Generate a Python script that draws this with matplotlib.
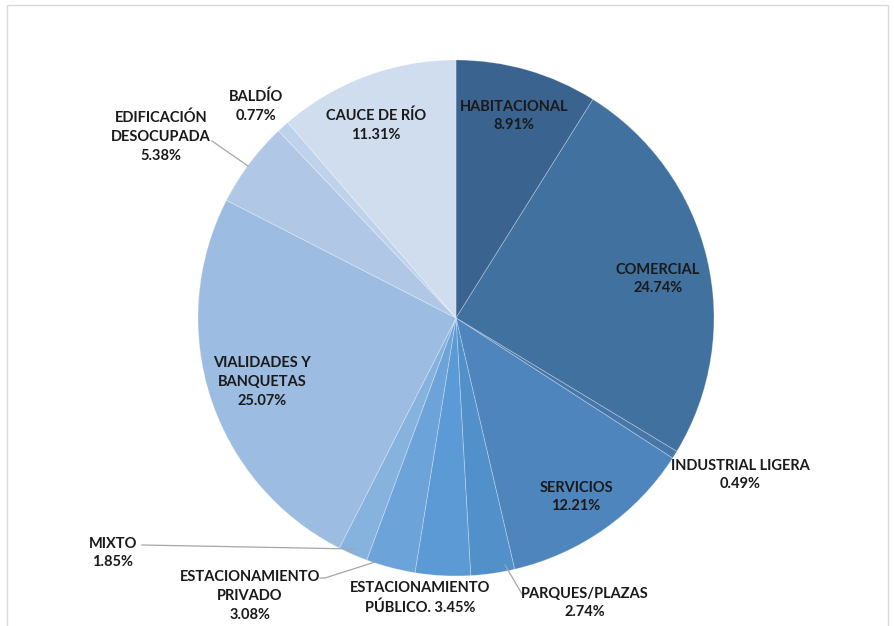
import matplotlib.pyplot as plt
from matplotlib.patches import Rectangle

categories = ['HABITACIONAL', 'COMERCIAL', 'INDUSTRIAL LIGERA', 'SERVICIOS',
              'PARQUES/PLAZAS', 'ESTACIONAMIENTO\nPÚBLICO.', 'ESTACIONAMIENTO\nPRIVADO',
              'MIXTO', 'VIALIDADES Y\nBANQUETAS', 'EDIFICACIÓN\nDESOCUPADA',
              'BALDÍO', 'CAUCE DE RÍO']
values = [8.91, 24.74, 0.49, 12.21, 2.74, 3.45, 3.08, 1.85, 25.07, 5.38, 0.77, 11.31]
colors = ['#3A6390', '#41719F', '#4677A8', '#4F85BD', '#5290CA', '#5B9AD4',
          '#6CA4DA', '#86B2DE', '#9CBCE1', '#B0C8E6', '#BFD2EB', '#D0DDEF']

W, H = 894, 626
fig = plt.figure(figsize=(8.94, 6.26), dpi=100)
ax = fig.add_axes([0, 0, 1, 1])

def py(y):  # pixel row -> data y
    return H - y

ax.pie(values, colors=colors, startangle=90, counterclock=False,
       center=(456, py(318)), radius=258, frame=True,
       wedgeprops=dict(edgecolor=(1, 1, 1, 0.3), linewidth=0.6))
ax.set_xlim(0, W)
ax.set_ylim(0, H)
ax.set_aspect('equal')
ax.axis('off')

# chart frame
ax.add_patch(Rectangle((7, py(640)), 881, 635, fill=False, edgecolor='#D9D9D9', lw=1))

font = dict(family=['Lato', 'DejaVu Sans'], fontweight='bold', fontsize=10.5,
            color='#1A1A1A', ha='center', va='center', linespacing=1.45)

labels = [
    ('HABITACIONAL\n8.91%', 514, 116),
    ('COMERCIAL\n24.74%', 658, 279),
    ('INDUSTRIAL LIGERA\n0.49%', 740, 475),
    ('SERVICIOS\n12.21%', 576, 497),
    ('PARQUES/PLAZAS\n2.74%', 585, 603),
    ('ESTACIONAMIENTO\nPÚBLICO. 3.45%', 420, 598),
    ('ESTACIONAMIENTO\nPRIVADO\n3.08%', 250, 596),
    ('MIXTO\n1.85%', 113, 553),
    ('VIALIDADES Y\nBANQUETAS\n25.07%', 262, 382),
    ('EDIFICACIÓN\nDESOCUPADA\n5.38%', 161, 137),
    ('BALDÍO\n0.77%', 256, 106),
    ('CAUCE DE RÍO\n11.31%', 376, 125),
]
for txt, x, y in labels:
    ax.text(x, py(y), txt, **font)

# leader lines
leaders = [
    [(212, 141), (248, 166)],
    [(142, 545), (356, 549)],
    [(320, 578), (325, 578), (375, 562)],
    [(527, 594), (522, 594), (505, 565)],
]
for pts in leaders:
    xs = [p[0] for p in pts]
    ys = [py(p[1]) for p in pts]
    ax.plot(xs, ys, color='#A6A6A6', lw=0.9)

fig.savefig('out.png', dpi=100)
